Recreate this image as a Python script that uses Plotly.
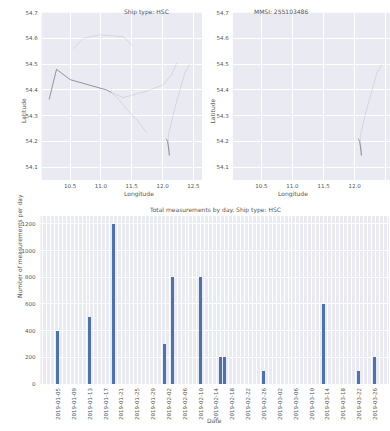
import plotly.graph_objects as go

# ship tracks (lon / lat)
west_lon = [10.16, 10.28, 10.50, 10.80, 11.09, 11.17]
west_lat = [54.363, 54.48, 54.44, 54.42, 54.40, 54.39]
south_lon = [11.17, 11.30, 11.42, 11.60, 11.74]
south_lat = [54.39, 54.36, 54.325, 54.28, 54.234]
east_lon = [11.17, 11.36, 11.74, 12.01, 12.15, 12.23]
east_lat = [54.39, 54.37, 54.395, 54.42, 54.46, 54.505]
north_lon = [10.55, 10.71, 10.98, 11.36, 11.52]
north_lat = [54.56, 54.60, 54.614, 54.607, 54.57]
mmsi_lon = [12.44, 12.36, 12.20, 12.09, 12.10, 12.11]
mmsi_lat = [54.50, 54.466, 54.33, 54.22, 54.18, 54.145]
dense_lon = [12.06, 12.08, 12.10, 12.11]
dense_lat = [54.21, 54.20, 54.17, 54.145]

# measurements per day
dates = ["2019-01-05", "2019-01-13", "2019-01-19", "2019-02-01", "2019-02-03",
         "2019-02-10", "2019-02-15", "2019-02-16", "2019-02-26", "2019-03-13",
         "2019-03-22", "2019-03-26"]
counts = [400, 500, 1200, 300, 800, 800, 200, 200, 100, 600, 100, 200]
tick_dates = ["2019-01-05", "2019-01-09", "2019-01-13", "2019-01-17", "2019-01-21",
              "2019-01-25", "2019-01-29", "2019-02-02", "2019-02-06", "2019-02-10",
              "2019-02-14", "2019-02-18", "2019-02-22", "2019-02-26", "2019-03-02",
              "2019-03-06", "2019-03-10", "2019-03-14", "2019-03-18", "2019-03-22",
              "2019-03-26"]

BG = "#EAEAF2"
TXT = "#555555"
FONT = "DejaVu Sans"

fig = go.Figure()

faint = dict(color="rgba(110,110,130,0.22)", width=0.8)
dark = dict(color="rgba(60,60,80,0.5)", width=1)

for lon, lat, ln in [(north_lon, north_lat, faint), (east_lon, east_lat, faint),
                     (south_lon, south_lat, faint), (west_lon, west_lat, dark),
                     (mmsi_lon, mmsi_lat, faint), (dense_lon, dense_lat, dark)]:
    fig.add_trace(go.Scatter(x=lon, y=lat, mode="lines", line=ln,
                             xaxis="x", yaxis="y", showlegend=False))

fig.add_trace(go.Scatter(x=mmsi_lon, y=mmsi_lat, mode="lines", line=faint,
                         xaxis="x2", yaxis="y2", showlegend=False))
fig.add_trace(go.Scatter(x=dense_lon, y=dense_lat, mode="lines", line=dark,
                         xaxis="x2", yaxis="y2", showlegend=False))

fig.add_trace(go.Bar(x=dates, y=counts, marker=dict(color="#4C72B0", line=dict(width=0)),
                     width=0.7 * 86400000, xaxis="x3", yaxis="y3", showlegend=False))

tick_font = dict(family=FONT, size=5.5, color=TXT)
map_x = dict(range=[10.04, 12.64], tickvals=[10.5, 11.0, 11.5, 12.0, 12.5],
             ticktext=["10.5", "11.0", "11.5", "12.0", "12.5"],
             showgrid=True, gridcolor="white", gridwidth=1, zeroline=False,
             showline=False, ticks="", tickfont=tick_font, ticklabelstandoff=2,
             automargin=False)
map_y = dict(range=[54.05, 54.70], tickvals=[54.1, 54.2, 54.3, 54.4, 54.5, 54.6, 54.7],
             ticktext=["54.1", "54.2", "54.3", "54.4", "54.5", "54.6", "54.7"],
             showgrid=True, gridcolor="white", gridwidth=1, zeroline=False,
             showline=False, ticks="", tickfont=tick_font, ticklabelstandoff=3,
             automargin=False)

fig.update_layout(
    width=390, height=431,
    margin=dict(l=0, r=0, t=0, b=0),
    paper_bgcolor="white", plot_bgcolor=BG,
    font=dict(family=FONT, color=TXT, size=6),
    bargap=0,
    xaxis=dict(map_x, domain=[0.107, 0.518], anchor="y"),
    yaxis=dict(map_y, domain=[0.5824, 0.9705], anchor="x"),
    xaxis2=dict(map_x, domain=[0.597, 1.0], anchor="y2", range=[10.04, 12.57]),
    yaxis2=dict(map_y, domain=[0.5824, 0.9705], anchor="x2"),
    xaxis3=dict(domain=[0.1038, 0.9974], anchor="y3", type="date",
                range=["2018-12-31 12:00", "2019-03-29 12:00"],
                tickvals=tick_dates, ticktext=tick_dates, tickangle=-90,
                tickfont=tick_font, ticks="", showgrid=True, gridcolor="white",
                gridwidth=0.8, zeroline=False, showline=False, ticklabelstandoff=2,
                automargin=False,
                minor=dict(dtick=86400000, tick0="2019-01-01", showgrid=True,
                           gridcolor="white", gridwidth=0.8)),
    yaxis3=dict(domain=[0.109, 0.499], anchor="x3", range=[0, 1260],
                tickvals=[0, 200, 400, 600, 800, 1000, 1200], tickfont=tick_font,
                ticks="", showgrid=True, gridcolor="white", gridwidth=1,
                zeroline=False, showline=False, ticklabelstandoff=4,
                automargin=False),
)

ann = dict(xref="paper", yref="paper", showarrow=False,
           font=dict(family=FONT, size=6, color=TXT))
fig.add_annotation(ann, x=0.3125, y=1 - 6 / 431, text="Ship type: HSC")
fig.add_annotation(ann, x=0.795, y=1 - 6 / 431, text="MMSI: 255103486")
fig.add_annotation(ann, x=0.3125, y=1 - 194 / 431, text="Longitude")
fig.add_annotation(ann, x=0.795, y=1 - 194 / 431, text="Longitude")
fig.add_annotation(ann, x=18 / 390, y=1 - 96 / 431, text="Latitude", textangle=-90)
fig.add_annotation(ann, x=212 / 390, y=1 - 96 / 431, text="Latitude", textangle=-90)
fig.add_annotation(ann, x=0.55, y=1 - 210 / 431, text="Total measurements by day. Ship type: HSC")
fig.add_annotation(ann, x=0.55, y=1 - 426 / 431, text="Date")
fig.add_annotation(ann, x=14 / 390, y=1 - 300 / 431, text="Number of measurements per day",
                   textangle=-90)

fig.write_html("out.html", config={"displayModeBar": False},
               post_script="document.body.style.margin='0';")
